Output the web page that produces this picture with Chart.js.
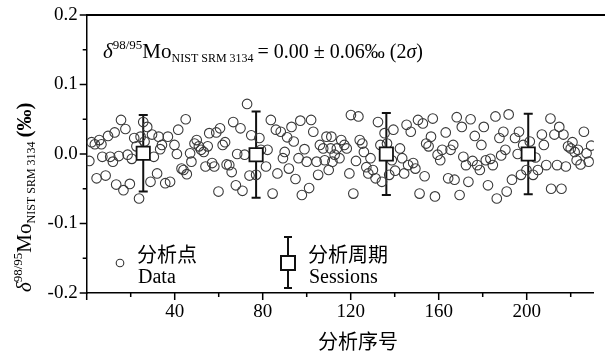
<!DOCTYPE html>
<html>
<head>
<meta charset="utf-8">
<script src="https://cdn.jsdelivr.net/npm/chart.js@4"></script>
<style>
html,body{margin:0;padding:0;background:#fff;}
#wrap{width:605px;height:360px;position:relative;}
</style>
</head>
<body>
<div id="wrap"><canvas id="c" width="605" height="360"></canvas></div>
<script>
// ---- data ----
const dataX = [1.2,2.2,3.7,4.5,5.7,6.7,7.1,8.6,9.7,10.7,11.9,12.7,13.4,14.6,15.6,16.7,17.6,18.6,19.6,20.5,21.6,22.6,23.8,24.5,25.7,26.3,27.5,29.0,29.7,30.5,32.0,32.7,33.4,34.2,35.7,36.9,37.9,39.9,41.0,41.6,43.1,44.0,45.0,45.5,47.0,47.6,49.0,50.0,51.0,52.0,53.2,54.0,55.0,55.7,57.0,58.0,58.9,59.9,60.6,61.8,62.9,63.6,64.8,65.9,66.6,67.8,68.4,69.9,70.8,71.8,72.9,74.0,74.8,77.0,78.5,79.2,81.5,82.2,83.7,84.5,86.0,86.7,88.2,89.2,90.0,91.1,91.9,93.1,94.1,94.9,96.3,97.1,97.8,99.0,100.0,101.1,102.0,103.0,104.5,105.2,106.0,107.5,108.2,109.0,110.0,110.9,111.2,111.7,112.7,113.7,114.9,115.7,117.1,118.2,119.4,120.1,121.2,122.4,123.5,124.1,125.3,126.0,127.1,128.0,129.0,130.1,131.3,132.4,133.5,134.2,135.4,136.5,137.5,138.7,139.4,140.2,142.4,143.4,144.3,145.4,146.1,147.3,148.4,149.4,150.6,151.3,152.8,153.6,154.3,155.4,156.5,157.3,158.3,159.5,160.7,161.6,163.2,164.3,165.4,166.6,167.2,168.2,169.5,170.5,171.2,172.4,173.5,174.5,175.4,176.4,177.5,178.7,179.4,180.5,181.4,182.4,183.5,184.6,185.8,186.4,187.6,188.4,189.4,190.3,190.9,191.8,193.3,194.7,195.9,196.5,197.4,198.4,199.9,201.4,202.9,204.0,205.1,206.9,207.8,208.9,210.8,211.1,212.6,213.8,214.8,215.8,216.7,217.8,218.8,220.0,220.8,221.8,222.7,223.3,224.5,226.0,227.2,228.2,229.3];
const dataY = [-0.010,0.017,0.014,-0.035,0.020,0.014,-0.004,-0.031,0.026,-0.004,-0.011,0.031,-0.044,-0.003,0.049,-0.052,0.036,-0.001,-0.043,-0.007,0.023,0.011,-0.064,0.025,0.046,0.018,0.039,-0.040,0.028,-0.004,-0.028,0.025,0.007,0.013,-0.042,0.025,-0.040,0.013,0.000,0.035,-0.021,-0.023,0.050,-0.029,0.001,-0.011,0.015,0.020,0.011,0.006,0.003,-0.018,0.011,0.030,-0.013,-0.018,0.031,-0.054,0.037,0.013,0.017,-0.015,-0.016,-0.026,0.046,-0.045,0.000,0.037,-0.053,-0.001,0.072,-0.031,0.027,-0.030,0.023,0.006,-0.018,0.006,0.049,-0.057,0.035,-0.028,0.032,-0.006,0.003,0.024,-0.021,0.039,0.018,-0.036,-0.006,0.048,-0.059,0.007,-0.011,-0.049,0.049,0.032,-0.011,-0.030,0.013,0.008,-0.009,0.025,-0.023,0.008,0.025,-0.011,-0.001,0.008,-0.006,0.020,0.013,0.008,-0.028,0.056,-0.057,-0.010,0.054,0.020,0.015,0.003,-0.019,-0.028,-0.006,-0.023,-0.035,0.046,0.013,-0.040,0.030,0.015,-0.030,-0.009,0.035,-0.024,0.008,-0.006,-0.028,0.042,-0.016,0.032,-0.013,-0.021,0.049,-0.057,0.044,-0.032,0.015,0.011,0.025,0.051,-0.061,-0.001,-0.009,0.006,0.031,-0.035,0.006,0.013,-0.037,0.053,-0.059,0.039,-0.004,-0.016,-0.040,0.050,-0.010,0.026,-0.016,-0.023,0.013,0.039,-0.009,-0.045,-0.007,-0.016,0.054,-0.064,0.023,-0.002,0.032,0.006,-0.054,0.057,-0.037,0.023,0.000,0.032,-0.030,0.013,-0.023,0.018,-0.030,-0.005,-0.023,0.028,0.013,-0.016,0.051,-0.050,0.028,-0.016,0.039,-0.050,0.028,-0.018,0.011,0.008,0.017,0.003,-0.009,0.006,-0.015,0.032,0.001,-0.011,0.012];
const sessionX = [25.7, 77.0, 136.2, 200.7];
const sessionY = [0.001, -0.001, 0.000, 0.000];
const sessionErr = [0.055, 0.062, 0.059, 0.058];
const xTickLabels = [40, 80, 120, 160, 200];
const yTickValues = [-0.2, -0.1, 0.0, 0.1, 0.2];

const SERIF = "'Liberation Serif','Noto Sans CJK SC',serif";
const CJK = "'Noto Sans CJK SC',sans-serif";

function drawRich(ctx, parts, x, y) {
  for (const p of parts) {
    ctx.font = p.font;
    ctx.fillText(p.text, x, y + (p.dy || 0));
    x += ctx.measureText(p.text).width + (p.gap || 0);
  }
  return x;
}

const decor = {
  id: 'decor',
  beforeDatasetsDraw(chart) {
    const ctx = chart.ctx, xs = chart.scales.x, ys = chart.scales.y;
    ctx.save();
    ctx.strokeStyle = '#111';
    ctx.lineWidth = 2;
    for (let i = 0; i < sessionX.length; i++) {
      const px = xs.getPixelForValue(sessionX[i]);
      const t = ys.getPixelForValue(sessionY[i] + sessionErr[i]);
      const b = ys.getPixelForValue(sessionY[i] - sessionErr[i]);
      ctx.beginPath();
      ctx.moveTo(px, t); ctx.lineTo(px, b);
      ctx.moveTo(px - 4.5, t); ctx.lineTo(px + 4.5, t);
      ctx.moveTo(px - 4.5, b); ctx.lineTo(px + 4.5, b);
      ctx.stroke();
    }
    ctx.restore();
  },
  afterDraw(chart) {
    const ctx = chart.ctx, xs = chart.scales.x, ys = chart.scales.y, a = chart.chartArea;
    ctx.save();
    ctx.strokeStyle = '#000';
    // top frame
    ctx.beginPath();
    ctx.lineWidth = 2;
    ctx.moveTo(a.left, a.top); ctx.lineTo(605, a.top);
    ctx.stroke();
    ctx.lineWidth = 1.5;
    // x ticks
    ctx.beginPath();
    for (let v = 0; v <= 220; v += 20) {
      const px = xs.getPixelForValue(v);
      const len = (v % 40 === 0) ? 7 : 4;
      ctx.moveTo(px, a.bottom); ctx.lineTo(px, a.bottom + len);
    }
    // y ticks
    for (let k = -4; k <= 4; k++) {
      const py = ys.getPixelForValue(k * 0.05);
      const len = (k % 2 === 0) ? 7 : 4;
      ctx.moveTo(a.left, py); ctx.lineTo(a.left - len, py);
    }
    ctx.stroke();

    ctx.fillStyle = '#000';
    ctx.textBaseline = 'alphabetic';
    ctx.textAlign = 'left';
    // annotation
    drawRich(ctx, [
      {text: 'δ', font: `italic 21px ${SERIF}`},
      {text: '98/95', font: `13px ${SERIF}`, dy: -9},
      {text: 'Mo', font: `21px ${SERIF}`},
      {text: 'NIST SRM 3134', font: `12px ${SERIF}`, dy: 4, gap: 4},
      {text: '= 0.00 ± 0.06‰ (2', font: `20px ${SERIF}`},
      {text: 'σ', font: `italic 20px ${SERIF}`},
      {text: ')', font: `20px ${SERIF}`}
    ], 103, 58);

    // y title (rotated)
    ctx.save();
    ctx.translate(31, 292);
    ctx.rotate(-Math.PI / 2);
    drawRich(ctx, [
      {text: 'δ', font: `italic 21px ${SERIF}`},
      {text: '98/95', font: `13px ${SERIF}`, dy: -9},
      {text: 'Mo', font: `21px ${SERIF}`},
      {text: 'NIST SRM 3134', font: `12px ${SERIF}`, dy: 4, gap: 4},
      {text: '(‰)', font: `bold 21px ${SERIF}`}
    ], 0, 0);
    ctx.restore();

    // x title
    ctx.textAlign = 'center';
    ctx.font = `20px ${CJK}`;
    ctx.fillText('分析序号', 358, 349);
    ctx.textAlign = 'left';

    // legend
    ctx.lineWidth = 1.1;
    ctx.strokeStyle = '#333';
    ctx.beginPath();
    ctx.arc(120, 263, 3.8, 0, Math.PI * 2);
    ctx.stroke();
    ctx.font = `20px ${CJK}`;
    ctx.fillText('分析点', 137, 262);
    ctx.font = `20px ${SERIF}`;
    ctx.fillText('Data', 138, 283);

    ctx.strokeStyle = '#111';
    ctx.lineWidth = 2;
    ctx.beginPath();
    ctx.moveTo(288, 237); ctx.lineTo(288, 288);
    ctx.moveTo(284, 237); ctx.lineTo(292, 237);
    ctx.moveTo(284, 288); ctx.lineTo(292, 288);
    ctx.stroke();
    ctx.fillStyle = '#fff';
    ctx.fillRect(281, 256, 14, 14);
    ctx.strokeRect(281, 256, 14, 14);
    ctx.fillStyle = '#000';
    ctx.font = `20px ${CJK}`;
    ctx.fillText('分析周期', 308, 262);
    ctx.font = `20px ${SERIF}`;
    ctx.fillText('Sessions', 309, 283);
    ctx.restore();
  }
};

new Chart(document.getElementById('c'), {
  type: 'scatter',
  data: {
    datasets: [
      {
        label: 'Sessions',
        data: sessionX.map((x, i) => ({x, y: sessionY[i]})),
        pointStyle: 'rect',
        pointRadius: 9.4,
        pointHoverRadius: 9.4,
        borderColor: '#111',
        backgroundColor: '#fff',
        borderWidth: 1.8
      },
      {
        label: 'Data',
        data: dataX.map((x, i) => ({x, y: dataY[i]})),
        pointStyle: 'circle',
        pointRadius: 4.8,
        pointHoverRadius: 4.8,
        borderColor: '#3a3a3a',
        backgroundColor: 'rgba(0,0,0,0)',
        borderWidth: 1.1
      }
    ]
  },
  options: {
    responsive: false,
    animation: false,
    events: [],
    layout: {padding: {left: 0, right: 1, top: 15, bottom: 0}},
    plugins: {legend: {display: false}, tooltip: {enabled: false}},
    scales: {
      x: {
        type: 'linear', min: 0, max: 230.5,
        afterFit: s => { s.height = 67; },
        afterBuildTicks: s => { s.ticks = [0,20,40,60,80,100,120,140,160,180,200,220].map(v => ({value: v})); },
        ticks: {
          autoSkip: false, maxRotation: 0, padding: 1,
          color: '#000', font: {family: SERIF, size: 19},
          callback: v => xTickLabels.includes(v) ? String(v) : ''
        },
        grid: {display: false, drawTicks: true, tickLength: 7},
        border: {display: true, color: '#000', width: 1.5}
      },
      y: {
        type: 'linear', min: -0.2, max: 0.2,
        afterFit: s => { s.width = 86.7; },
        afterBuildTicks: s => { s.ticks = yTickValues.map(v => ({value: v})); },
        ticks: {
          color: '#000', font: {family: SERIF, size: 19}, padding: 2,
          callback: v => (Math.abs(v) < 1e-9 ? 0 : v).toFixed(1)
        },
        grid: {display: false, drawTicks: true, tickLength: 7},
        border: {display: true, color: '#000', width: 1.5}
      }
    }
  },
  plugins: [decor]
});
</script>
</body>
</html>
